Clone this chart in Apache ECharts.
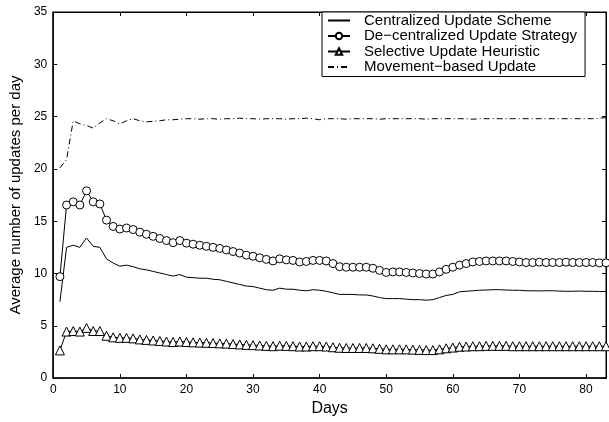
<!DOCTYPE html>
<html>
<head>
<meta charset="utf-8">
<script src="https://cdn.jsdelivr.net/npm/echarts@6/dist/echarts.min.js"></script>
<style>
  html, body { margin: 0; padding: 0; background: #fff; }
  #chart { width: 609px; height: 422px; }
</style>
</head>
<body>
<div id="chart"></div>
<script>
// x values: days
const days = [
  1, 2, 3, 4, 5, 6, 7, 8, 9, 10,
  11, 12, 13, 14, 15, 16, 17, 18, 19, 20,
  21, 22, 23, 24, 25, 26, 27, 28, 29, 30,
  31, 32, 33, 34, 35, 36, 37, 38, 39, 40,
  41, 42, 43, 44, 45, 46, 47, 48, 49, 50,
  51, 52, 53, 54, 55, 56, 57, 58, 59, 60,
  61, 62, 63, 64, 65, 66, 67, 68, 69, 70,
  71, 72, 73, 74, 75, 76, 77, 78, 79, 80,
  81, 82, 83
]

const seriesNames = [
  'Centralized Update Scheme',
  'De\u2212centralized Update Strategy',
  'Selective Update Heuristic',
  'Movement\u2212based Update'
]

// 集中式更新
const centralized = [
  7.3, 12.5, 12.7, 12.5, 13.4, 12.6, 12.5, 11.4, 11.0, 10.7,
  10.8, 10.65, 10.45, 10.35, 10.2, 10.05, 9.9, 9.75, 9.9, 9.65,
  9.6, 9.55, 9.55, 9.45, 9.4, 9.25, 9.1, 8.95, 8.8, 8.75,
  8.6, 8.45, 8.4, 8.6, 8.5, 8.5, 8.4, 8.35, 8.45, 8.4,
  8.3, 8.15, 8.0, 8.0, 8.0, 7.95, 7.95, 7.85, 7.7, 7.6,
  7.6, 7.6, 7.55, 7.5, 7.5, 7.45, 7.5, 7.7, 7.9, 8.0,
  8.25, 8.3, 8.35, 8.4, 8.42, 8.45, 8.45, 8.42, 8.4, 8.4,
  8.35, 8.35, 8.33, 8.35, 8.35, 8.32, 8.3, 8.3, 8.32, 8.3,
  8.3, 8.28, 8.28
]

// 分布式更新
const decentralized = [
  9.7, 16.55, 16.85, 16.55, 17.9, 16.85, 16.65, 15.1, 14.5, 14.25,
  14.35, 14.2, 13.95, 13.75, 13.55, 13.35, 13.15, 12.95, 13.15, 12.9,
  12.8, 12.7, 12.6, 12.5, 12.4, 12.25, 12.1, 11.95, 11.75, 11.65,
  11.5, 11.35, 11.2, 11.4, 11.3, 11.25, 11.1, 11.15, 11.25, 11.25,
  11.2, 10.95, 10.65, 10.6, 10.6, 10.6, 10.6, 10.5, 10.3, 10.1,
  10.15, 10.15, 10.1, 10.05, 10.0, 9.95, 9.95, 10.15, 10.4, 10.6,
  10.8, 10.95, 11.1, 11.15, 11.2, 11.2, 11.2, 11.2, 11.15, 11.1,
  11.05, 11.05, 11.08, 11.05, 11.05, 11.05, 11.08, 11.05, 11.05, 11.05,
  11.05, 11.02, 11.02
]

// 选择性更新
const selective = [
  2.65, 4.45, 4.5, 4.45, 4.8, 4.5, 4.5, 4.05, 3.9, 3.85,
  3.85, 3.8, 3.7, 3.65, 3.6, 3.55, 3.5, 3.45, 3.5, 3.45,
  3.42, 3.4, 3.38, 3.35, 3.32, 3.3, 3.25, 3.22, 3.18, 3.15,
  3.12, 3.08, 3.05, 3.1, 3.08, 3.05, 3.02, 3.02, 3.05, 3.05,
  3.02, 2.95, 2.9, 2.88, 2.88, 2.88, 2.88, 2.85, 2.8, 2.75,
  2.75, 2.75, 2.75, 2.72, 2.7, 2.68, 2.68, 2.75, 2.85, 2.92,
  3.0, 3.02, 3.05, 3.05, 3.08, 3.08, 3.08, 3.08, 3.05, 3.05,
  3.05, 3.05, 3.05, 3.05, 3.05, 3.05, 3.05, 3.05, 3.05, 3.05,
  3.05, 3.05, 3.05
]

// 基于移动的更新
const movement = [
  20.1, 20.9, 24.6, 24.3, 24.15, 23.9, 24.4, 24.8, 24.6, 24.3,
  24.6, 24.8, 24.6, 24.5, 24.55, 24.6, 24.7, 24.7, 24.75, 24.8,
  24.8, 24.75, 24.8, 24.8, 24.75, 24.8, 24.8, 24.85, 24.8, 24.8,
  24.75, 24.8, 24.8, 24.8, 24.75, 24.8, 24.8, 24.85, 24.8, 24.7,
  24.8, 24.8, 24.8, 24.75, 24.8, 24.8, 24.8, 24.8, 24.75, 24.8,
  24.8, 24.8, 24.8, 24.8, 24.8, 24.75, 24.8, 24.8, 24.8, 24.8,
  24.8, 24.8, 24.75, 24.8, 24.8, 24.8, 24.8, 24.8, 24.8, 24.8,
  24.8, 24.8, 24.8, 24.8, 24.8, 24.8, 24.8, 24.8, 24.8, 24.8,
  24.8, 24.85, 24.9
]

const FONT = "'Liberation Sans', Arial, Helvetica, sans-serif"

const pairs = (ys) => ys.map((v, i) => [days[i], v])

const chart = echarts.init(document.getElementById('chart'))

const baseX = {
  type: 'value',
  min: 0,
  max: 83,
  interval: 10,
  splitLine: { show: false },
  axisLine: { show: true, onZero: false, lineStyle: { color: '#000', width: 1 } },
  axisTick: { show: true, inside: true, length: 4, lineStyle: { color: '#000' } },
}
const baseY = {
  type: 'value',
  min: 0,
  max: 35,
  interval: 5,
  splitLine: { show: false },
  axisLine: { show: true, onZero: false, lineStyle: { color: '#000', width: 1 } },
  axisTick: { show: true, inside: true, length: 4, lineStyle: { color: '#000' } },
}

// 无标记的系列：图例里只画线
const hiddenMark = { color: 'rgba(0,0,0,0)', borderColor: 'rgba(0,0,0,0)', borderWidth: 0 }

const option = {
  animation: false,
  backgroundColor: '#fff',
  grid: {
    left: 50,
    right: 3,
    top: 12,
    bottom: 33,
    show: true,
    borderColor: '#000',
    borderWidth: 1,
  },
  legend: {
    orient: 'vertical',
    left: 322,
    top: 12,
    padding: [1, 8, 2, 5],
    itemGap: 0.5,
    itemWidth: 22,
    itemHeight: 8,
    borderColor: '#000',
    borderWidth: 1,
    borderRadius: 0,
    backgroundColor: '#fff',
    textStyle: { color: '#000', fontSize: 15, lineHeight: 15, fontFamily: FONT, padding: [0, 0, 0, 9] },
    data: [
      { name: seriesNames[0], itemStyle: hiddenMark },
      { name: seriesNames[1] },
      { name: seriesNames[2] },
      { name: seriesNames[3], itemStyle: hiddenMark },
    ],
  },
  xAxis: [
    {
      ...baseX,
      position: 'bottom',
      name: 'Days',
      nameLocation: 'middle',
      nameGap: 22,
      nameTextStyle: { color: '#000', fontSize: 16, fontFamily: FONT },
      axisLine: { show: true, onZero: false, lineStyle: { color: '#000', width: 1.5 } },
      axisLabel: { color: '#000', fontSize: 12, fontFamily: FONT, margin: 6, showMaxLabel: false },
    },
    { ...baseX, position: 'top', axisLabel: { show: false } },
  ],
  yAxis: [
    {
      ...baseY,
      position: 'left',
      name: 'Average number of updates per day',
      nameLocation: 'middle',
      nameGap: 26,
      nameTextStyle: { color: '#000', fontSize: 15, fontFamily: FONT },
      axisLine: { show: true, onZero: false, lineStyle: { color: '#000', width: 1.5 } },
      axisLabel: { color: '#000', fontSize: 12, fontFamily: FONT, margin: 6 },
    },
    { ...baseY, position: 'right', axisLabel: { show: false } },
  ],
  series: [
    {
      name: seriesNames[0],
      type: 'line',
      data: pairs(centralized),
      symbol: 'none',
      lineStyle: { color: '#000', width: 1 },
      itemStyle: { color: '#000' },
    },
    {
      name: seriesNames[1],
      type: 'line',
      data: pairs(decentralized),
      symbol: 'circle',
      symbolSize: 8,
      lineStyle: { color: '#000', width: 1 },
      itemStyle: { color: '#fff', borderColor: '#000', borderWidth: 1 },
    },
    {
      name: seriesNames[2],
      type: 'line',
      data: pairs(selective),
      symbol: 'triangle',
      symbolSize: 9,
      lineStyle: { color: '#000', width: 1 },
      itemStyle: { color: '#fff', borderColor: '#000', borderWidth: 1 },
    },
    {
      name: seriesNames[3],
      type: 'line',
      data: pairs(movement),
      symbol: 'none',
      lineStyle: { color: '#000', width: 1, type: [6, 3, 1, 3] },
      itemStyle: { color: '#000' },
    },
  ],
}

chart.setOption(option)
</script>
</body>
</html>
